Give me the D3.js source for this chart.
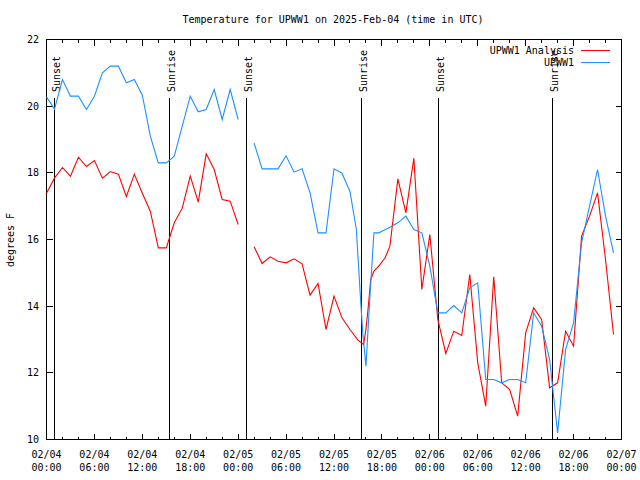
<!DOCTYPE html>
<html>
<head>
<meta charset="utf-8">
<script src="https://cdn.jsdelivr.net/npm/d3@7"></script>
<style>
  html, body { margin: 0; padding: 0; background: #fff; }
  svg { display: block; }
  text { font-family: "DejaVu Sans Mono", "Liberation Mono", monospace; font-size: 10px; fill: #000; }
</style>
</head>
<body>
<svg id="chart" width="640" height="480"></svg>
<script>
// ---- data (hours after 2025-02-04 00:00 UTC) ----
const titleText = "Temperature for UPWW1 on 2025-Feb-04 (time in UTC)";
const yLabel = "degrees F";
const seriesNames = ["UPWW1 Analysis", "UPWW1"];

const analysisHours = [0,1,2,3,4,5,6,7,8,9,10,11,12,13,14,15,16,17,18,19,20,21,22,23,24,
  null,
  26,27,28,29,30,31,32,33,34,35,36,37,38,39,39.7,40,40.3,40.6,41,41.6,42.4,43,44,45,46,47,48,49,50,
  51,52,53,54,55,56,57,58,59,60,61,62,63,64,65,66,67,68,69,70,71];
const analysisTemps = [17.39,17.84,18.16,17.9,18.47,18.19,18.37,17.84,18.04,17.96,17.29,17.96,17.39,16.85,15.75,15.75,16.5,16.94,17.9,17.12,18.57,18.1,17.2,17.15,16.45,
  null,
  15.78,15.28,15.48,15.35,15.3,15.42,15.27,14.33,14.68,13.3,14.3,13.65,13.3,12.98,12.85,13.3,14.0,14.8,15.05,15.2,15.45,15.8,17.82,16.8,18.44,14.5,16.15,13.6,12.58,
  13.25,13.12,14.95,12.3,11.0,14.88,11.7,11.5,10.7,13.2,13.95,13.6,11.55,11.7,13.25,12.8,16.1,16.7,17.4,15.4,13.15];

const obsHours = [0,1,2,3,4,5,6,7,8,9,10,11,12,13,14,15,16,17,18,19,20,21,22,23,24,
  null,
  26,27,28,29,30,31,32,33,34,35,36,37,38,38.8,39.3,39.6,40,40.5,41,41.6,42,43,44,45,46,47,48,49,50,
  51,52,53,54,55,56,57,58,59,60,61,62,63,64,65,66,67,68,69,70,71];
const obsTemps = [20.28,19.91,20.8,20.3,20.3,19.9,20.3,21.0,21.2,21.2,20.7,20.8,20.33,19.1,18.3,18.3,18.5,19.4,20.3,19.83,19.9,20.5,19.6,20.5,19.6,
  null,
  18.89,18.12,18.12,18.12,18.51,18.02,18.12,17.4,16.2,16.2,18.12,17.99,17.44,16.3,14.3,13.2,12.2,14.3,16.2,16.2,16.25,16.37,16.5,16.7,16.3,16.2,15.2,13.8,13.8,
  14.02,13.8,14.55,14.7,11.8,11.8,11.7,11.8,11.8,11.7,13.8,13.4,12.4,10.2,12.7,13.5,15.9,17.0,18.1,16.7,15.6];

const eventLabels = ["Sunset","Sunrise","Sunset","Sunrise","Sunset","Sunrise"];
const eventHours = [1.0, 15.4, 25.05, 39.45, 49.1, 63.4];

const yTicks = [10,12,14,16,18,20,22];
const startTime = Date.UTC(2025,1,4,0,0);
const endTime = Date.UTC(2025,1,7,0,0);

// ---- drawing ----
const svg = d3.select("#chart");
const pLeft = 46.5, pRight = 621.5, pTop = 39.5, pBottom = 439.5;
const toDate = h => new Date(startTime + h * 3600e3);

const x = d3.scaleUtc().domain([new Date(startTime), new Date(endTime)]).range([pLeft, pRight]);
const y = d3.scaleLinear().domain([10, 22]).range([pBottom, pTop]);

const colors = ["#ff0000", "#1e90ff"];

// title
svg.append("text").attr("x", 333).attr("y", 20).attr("text-anchor", "middle")
  .attr("dominant-baseline", "middle").text(titleText);

// y label
svg.append("text").attr("transform", "translate(11,240) rotate(-90)")
  .attr("text-anchor", "middle").attr("dominant-baseline", "middle").text(yLabel);

// axes
const g = svg.append("g").attr("shape-rendering", "crispEdges");
const majorX = d3.utcHour.every(6).range(new Date(startTime), new Date(endTime + 1));
const minorX = d3.utcHour.every(2).range(new Date(startTime), new Date(endTime + 1));

minorX.forEach(d => {
  const isMajor = d.getUTCHours() % 6 === 0;
  const len = isMajor ? 6 : 3;
  const xx = Math.round(x(d) - 0.5) + 0.5;
  g.append("line").attr("x1", xx).attr("x2", xx).attr("y1", pBottom).attr("y2", pBottom - len).attr("stroke", "#000");
  g.append("line").attr("x1", xx).attr("x2", xx).attr("y1", pTop).attr("y2", pTop + len).attr("stroke", "#000");
});
const fmtDate = d3.utcFormat("%m/%d"), fmtTime = d3.utcFormat("%H:%M");
majorX.forEach(d => {
  const t = svg.append("text").attr("x", x(d)).attr("text-anchor", "middle");
  t.append("tspan").attr("x", x(d)).attr("y", 457.5).text(fmtDate(d));
  t.append("tspan").attr("x", x(d)).attr("y", 470.5).text(fmtTime(d));
});

// y ticks
yTicks.forEach(v => {
  const yy = Math.round(y(v) - 0.5) + 0.5;
  g.append("line").attr("x1", pLeft).attr("x2", pLeft + 6).attr("y1", yy).attr("y2", yy).attr("stroke", "#000");
  g.append("line").attr("x1", pRight).attr("x2", pRight - 6).attr("y1", yy).attr("y2", yy).attr("stroke", "#000");
  svg.append("text").attr("x", 39).attr("y", yy).attr("text-anchor", "end")
    .attr("dominant-baseline", "middle").text(v);
});

// sunrise / sunset markers
eventHours.forEach((h, i) => {
  const xx = Math.round(x(toDate(h)) - 0.5) + 0.5;
  g.append("line").attr("x1", xx).attr("x2", xx).attr("y1", 98).attr("y2", pBottom).attr("stroke", "#000");
  svg.append("text").attr("transform", `translate(${xx + 5.5},92) rotate(-90)`)
    .attr("text-anchor", "start").text(eventLabels[i]);
});

// series
const line = d3.line()
  .defined(d => d.h !== null && d.v !== null)
  .x(d => x(toDate(d.h))).y(d => y(d.v));
const series = [
  analysisHours.map((h, i) => ({h, v: analysisTemps[i]})),
  obsHours.map((h, i) => ({h, v: obsTemps[i]}))
];
series.forEach((s, i) => {
  svg.append("path").datum(s).attr("d", line).attr("fill", "none")
    .attr("stroke", colors[i]).attr("stroke-width", 1.1);
});

// legend
seriesNames.forEach((name, i) => {
  const yy = 50.5 + i * 12;
  svg.append("text").attr("x", 574).attr("y", yy).attr("text-anchor", "end")
    .attr("dominant-baseline", "middle").text(name);
  g.append("line").attr("x1", 581).attr("x2", 610).attr("y1", yy).attr("y2", yy)
    .attr("stroke", colors[i]);
});

// border
g.append("rect").attr("x", pLeft).attr("y", pTop).attr("width", pRight - pLeft).attr("height", pBottom - pTop)
  .attr("fill", "none").attr("stroke", "#000");
</script>
</body>
</html>
